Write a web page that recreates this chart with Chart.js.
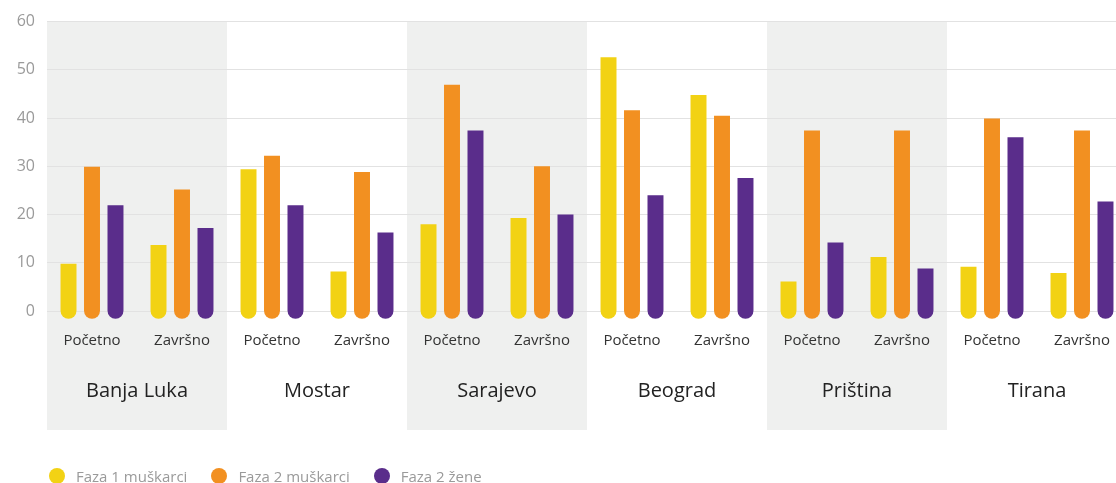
<!DOCTYPE html>
<html>
<head>
<meta charset="utf-8">
<script src="https://cdn.jsdelivr.net/npm/chart.js@4.4.0/dist/chart.umd.min.js"></script>
<style>
    html, body { margin: 0; padding: 0; background: #fff; overflow: hidden; }
    .wrap { position: relative; width: 1127px; height: 483px; }
    .legend {
        position: absolute; left: 49px; top: 466px;
        display: flex; align-items: center;
        font-family: 'Open Sans', sans-serif; font-size: 15px; color: #9a9a9a;
    }
    .legend span.item { display: flex; align-items: center; margin-right: 24px; }
    .legend i { display: inline-block; width: 16px; height: 16px; border-radius: 50%; margin-right: 11px; }
</style>
</head>
<body>
<div class="wrap">
    <canvas id="chart" width="1127" height="483"></canvas>
    <div class="legend" id="legend"></div>
</div>
<script>
const cities = ['Banja Luka', 'Mostar', 'Sarajevo', 'Beograd', 'Priština', 'Tirana'];
const phases = ['Početno', 'Završno'];
const seriesNames = ['Faza 1 muškarci', 'Faza 2 muškarci', 'Faza 2 žene'];
const seriesColors = ['#f2d214', '#f29021', '#5a2d8b'];

// one value per city and phase (Početno, Završno)
const faza1Muskarci = [9.8, 13.7, 29.4, 8.2, 18.0, 19.3, 52.6, 44.8, 6.1, 11.2, 9.2, 7.9];
const faza2Muskarci = [29.9, 25.2, 32.2, 28.8, 46.9, 30.0, 41.6, 40.5, 37.4, 37.4, 39.9, 37.4];
const faza2Zene = [21.9, 17.2, 21.9, 16.3, 37.4, 20.0, 24.0, 27.6, 14.2, 8.8, 36.0, 22.7];

const yTicks = [0, 10, 20, 30, 40, 50, 60];

const labels = cities.flatMap(() => phases);
const seriesData = [faza1Muskarci, faza2Muskarci, faza2Zene];

// grey bands behind every second city + city names under the phase labels
const cityBands = {
    id: 'cityBands',
    beforeDraw(chart) {
        const {ctx, chartArea, scales: {x}} = chart;
        const half = (x.right - x.left) / labels.length / 2;
        ctx.save();
        ctx.fillStyle = '#eff0ef';
        cities.forEach((city, i) => {
            if (i % 2 !== 0) return;
            const x0 = x.getPixelForValue(i * 2) - half;
            const x1 = x.getPixelForValue(i * 2 + 1) + half;
            ctx.fillRect(x0, chartArea.top, x1 - x0, chartArea.bottom + 119 - chartArea.top);
        });
        ctx.restore();
    },
    afterDraw(chart) {
        const {ctx, chartArea, scales: {x}} = chart;
        ctx.save();
        ctx.font = '20px "Open Sans", sans-serif';
        ctx.fillStyle = '#222';
        ctx.textAlign = 'center';
        ctx.textBaseline = 'middle';
        cities.forEach((city, i) => {
            const cx = (x.getPixelForValue(i * 2) + x.getPixelForValue(i * 2 + 1)) / 2;
            ctx.fillText(city, cx, chartArea.bottom + 80);
        });
        ctx.restore();
    }
};

const ctx = document.getElementById('chart').getContext('2d');

new Chart(ctx, {
    type: 'bar',
    data: {
        labels: labels,
        datasets: seriesNames.map((name, i) => ({
            label: name,
            data: seriesData[i],
            backgroundColor: seriesColors[i],
            base: -1.6,
            clip: false,
            borderSkipped: false,
            borderRadius: {topLeft: 0, topRight: 0, bottomLeft: 8, bottomRight: 8},
            barPercentage: 0.68,
            categoryPercentage: 0.783
        }))
    },
    options: {
        responsive: false,
        animation: false,
        layout: {
            padding: {left: 0, right: 0, top: 10, bottom: 0}
        },
        plugins: {
            legend: {display: false},
            tooltip: {enabled: false}
        },
        scales: {
            x: {
                grid: {display: false},
                border: {display: false},
                ticks: {
                    color: '#333',
                    font: {family: 'Open Sans', size: 15},
                    padding: 13,
                    maxRotation: 0,
                    autoSkip: false
                },
                afterFit(scale) {
                    scale.height = 172;
                }
            },
            y: {
                min: 0,
                max: 60,
                border: {display: false},
                grid: {color: '#e2e2e2', drawTicks: false},
                afterBuildTicks(scale) {
                    scale.ticks = yTicks.map(v => ({value: v}));
                },
                ticks: {
                    color: '#9a9a9a',
                    font: {family: 'Open Sans', size: 16},
                    padding: 12
                },
                afterFit(scale) {
                    scale.width = 47;
                }
            }
        }
    },
    plugins: [cityBands]
});

document.getElementById('legend').innerHTML = seriesNames.map((name, i) =>
    `<span class="item"><i style="background:${seriesColors[i]}"></i>${name}</span>`
).join('');
</script>
</body>
</html>
